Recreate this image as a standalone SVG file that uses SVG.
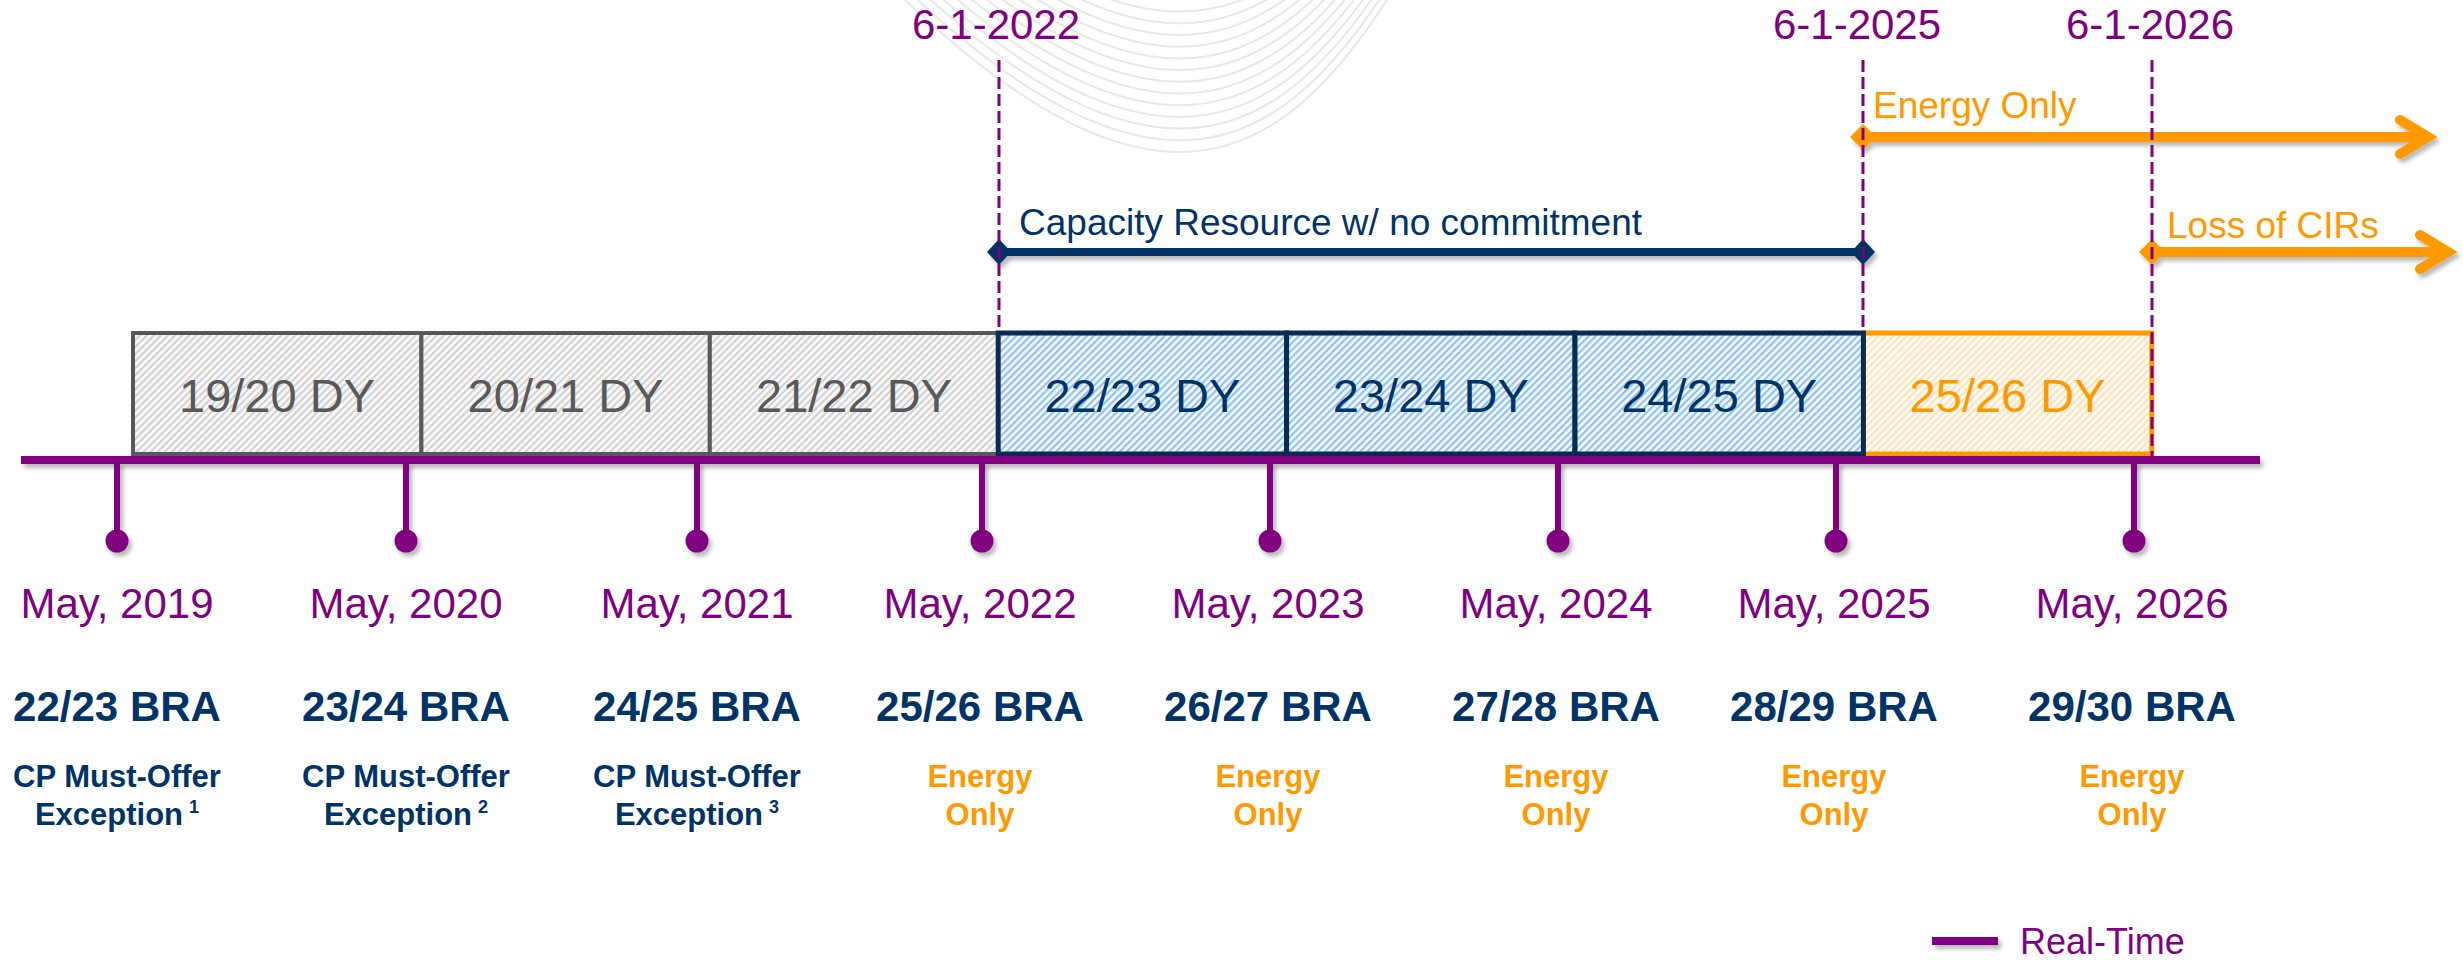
<svg xmlns="http://www.w3.org/2000/svg" width="2463" height="960" viewBox="0 0 2463 960">
<style>
.f{font-family:"Liberation Sans",Arial,Helvetica,sans-serif}
.date{font-size:42px;fill:#800080;text-anchor:middle}
.dy{font-size:47px;text-anchor:middle}
.may{font-size:42px;fill:#800080;text-anchor:middle}
.bra{font-size:42px;font-weight:bold;fill:#003366;text-anchor:middle}
.sub{font-size:31px;font-weight:bold;text-anchor:middle}
.navy{fill:#003366}
.orange{fill:#ff9900}
.gray{fill:#595959}
.dash{stroke:#800080;stroke-width:3;stroke-dasharray:12 5;fill:none}
.stem{fill:#800080}
.curve{fill:none;stroke:#e8e8e8;stroke-width:2}
.lbl{font-size:37px}
</style>
<defs>
<pattern id="hatchGray" width="5" height="5" patternUnits="userSpaceOnUse" patternTransform="rotate(45)">
<rect width="5" height="5" fill="#f7f7f7"/><rect width="2" height="5" fill="#d2d2d2"/>
</pattern>
<pattern id="hatchBlue" width="5" height="5" patternUnits="userSpaceOnUse" patternTransform="rotate(45)">
<rect width="5" height="5" fill="#f2f8fe"/><rect width="2.2" height="5" fill="#93c2f2"/>
</pattern>
<pattern id="hatchOrange" width="5" height="5" patternUnits="userSpaceOnUse" patternTransform="rotate(45)">
<rect width="5" height="5" fill="#fffbf5"/><rect width="2.2" height="5" fill="#fde3bd"/>
</pattern>
<filter id="shadow" filterUnits="userSpaceOnUse" x="0" y="0" width="2463" height="960">
<feDropShadow dx="3" dy="4" stdDeviation="2" flood-color="#000" flood-opacity="0.28"/>
</filter>
<marker id="diamondNavy" markerUnits="userSpaceOnUse" viewBox="-14 -14 28 28" markerWidth="28" markerHeight="28" refX="0" refY="0" orient="auto">
<path d="M-12,0 L0,-13 L12,0 L0,13 Z" fill="#003366"/>
</marker>
<marker id="diamondOrange" markerUnits="userSpaceOnUse" viewBox="-14 -14 28 28" markerWidth="28" markerHeight="28" refX="0" refY="0" orient="auto">
<path d="M-13,0 L0,-13 L13,0 L0,13 Z" fill="#ff9900"/>
</marker>
<marker id="openArrowOrange" markerUnits="userSpaceOnUse" viewBox="-40 -25 60 50" markerWidth="60" markerHeight="50" refX="0" refY="0" orient="auto" overflow="visible">
<path d="M-28,-17 L0,0 L-28,17" fill="none" stroke="#ff9900" stroke-width="10" stroke-linecap="round" stroke-linejoin="miter"/>
</marker>
<path id="arc" d="M900,-5 C1010,100 1100,152 1180,152 C1265,152 1330,90 1390,-5"/>
</defs>

<rect width="2463" height="960" fill="#ffffff"/>

<g id="background-curves" class="curve">
<use href="#arc"/>
<use href="#arc" y="-11.7"/>
<use href="#arc" y="-23.4"/>
<use href="#arc" y="-35.1"/>
<use href="#arc" y="-46.8"/>
<use href="#arc" y="-58.5"/>
<use href="#arc" y="-70.2"/>
<use href="#arc" y="-81.9"/>
<use href="#arc" y="-93.6"/>
<use href="#arc" y="-105.3"/>
<use href="#arc" y="-117"/>
<use href="#arc" y="-128.7"/>
<use href="#arc" y="-140.4"/>
</g>

<g id="date-markers">
<text class="f date" x="996" y="39">6-1-2022</text>
<text class="f date" x="1857" y="39">6-1-2025</text>
<text class="f date" x="2150" y="39">6-1-2026</text>
</g>

<g id="box-1920"><rect x="133" y="333" width="288.4" height="121" fill="url(#hatchGray)" stroke="#595959" stroke-width="4"/><text class="f dy gray" x="277" y="412">19/20 DY</text></g>
<g id="box-2021"><rect x="421.4" y="333" width="288.4" height="121" fill="url(#hatchGray)" stroke="#595959" stroke-width="4"/><text class="f dy gray" x="565.6" y="412">20/21 DY</text></g>
<g id="box-2122"><rect x="709.8" y="333" width="288.4" height="121" fill="url(#hatchGray)" stroke="#595959" stroke-width="4"/><text class="f dy gray" x="854" y="412">21/22 DY</text></g>
<g id="box-2526"><rect x="1863.4" y="333" width="288.4" height="121" fill="url(#hatchOrange)" stroke="#ff9900" stroke-width="5"/><text class="f dy orange" x="2007.6" y="412">25/26 DY</text></g>
<g id="box-2223"><rect x="998.2" y="333" width="288.4" height="121" fill="url(#hatchBlue)" stroke="#0b2b52" stroke-width="5"/><text class="f dy navy" x="1142.4" y="412">22/23 DY</text></g>
<g id="box-2324"><rect x="1286.6" y="333" width="288.4" height="121" fill="url(#hatchBlue)" stroke="#0b2b52" stroke-width="5"/><text class="f dy navy" x="1430.8" y="412">23/24 DY</text></g>
<g id="box-2425"><rect x="1575" y="333" width="288.4" height="121" fill="url(#hatchBlue)" stroke="#0b2b52" stroke-width="5"/><text class="f dy navy" x="1719.2" y="412">24/25 DY</text></g>

<g id="timeline-bar">
<rect x="21" y="456" width="2239" height="8" fill="#800080" filter="url(#shadow)"/>
</g>

<g id="col-2019" filter="url(#shadow)">
<rect class="stem" x="114" y="462" width="6" height="74"/><circle class="stem" cx="117" cy="541" r="11.5"/>
</g>
<g id="col-2020" filter="url(#shadow)">
<rect class="stem" x="403" y="462" width="6" height="74"/><circle class="stem" cx="406" cy="541" r="11.5"/>
</g>
<g id="col-2021" filter="url(#shadow)">
<rect class="stem" x="694" y="462" width="6" height="74"/><circle class="stem" cx="697" cy="541" r="11.5"/>
</g>
<g id="col-2022" filter="url(#shadow)">
<rect class="stem" x="979" y="462" width="6" height="74"/><circle class="stem" cx="982" cy="541" r="11.5"/>
</g>
<g id="col-2023" filter="url(#shadow)">
<rect class="stem" x="1267" y="462" width="6" height="74"/><circle class="stem" cx="1270" cy="541" r="11.5"/>
</g>
<g id="col-2024" filter="url(#shadow)">
<rect class="stem" x="1555" y="462" width="6" height="74"/><circle class="stem" cx="1558" cy="541" r="11.5"/>
</g>
<g id="col-2025" filter="url(#shadow)">
<rect class="stem" x="1833" y="462" width="6" height="74"/><circle class="stem" cx="1836" cy="541" r="11.5"/>
</g>
<g id="col-2026" filter="url(#shadow)">
<rect class="stem" x="2131" y="462" width="6" height="74"/><circle class="stem" cx="2134" cy="541" r="11.5"/>
</g>

<g id="labels-2019"><text class="f may" x="117" y="618">May, 2019</text><text class="f bra" x="117" y="721">22/23 BRA</text>
<text class="f sub navy" x="117" y="787">CP Must-Offer</text><text class="f sub navy" x="117" y="825">Exception<tspan font-size="18" dx="6" dy="-12">1</tspan></text></g>
<g id="labels-2020"><text class="f may" x="406" y="618">May, 2020</text><text class="f bra" x="406" y="721">23/24 BRA</text>
<text class="f sub navy" x="406" y="787">CP Must-Offer</text><text class="f sub navy" x="406" y="825">Exception<tspan font-size="18" dx="6" dy="-12">2</tspan></text></g>
<g id="labels-2021"><text class="f may" x="697" y="618">May, 2021</text><text class="f bra" x="697" y="721">24/25 BRA</text>
<text class="f sub navy" x="697" y="787">CP Must-Offer</text><text class="f sub navy" x="697" y="825">Exception<tspan font-size="18" dx="6" dy="-12">3</tspan></text></g>
<g id="labels-2022"><text class="f may" x="980" y="618">May, 2022</text><text class="f bra" x="980" y="721">25/26 BRA</text>
<text class="f sub orange" x="980" y="787">Energy</text><text class="f sub orange" x="980" y="825">Only</text></g>
<g id="labels-2023"><text class="f may" x="1268" y="618">May, 2023</text><text class="f bra" x="1268" y="721">26/27 BRA</text>
<text class="f sub orange" x="1268" y="787">Energy</text><text class="f sub orange" x="1268" y="825">Only</text></g>
<g id="labels-2024"><text class="f may" x="1556" y="618">May, 2024</text><text class="f bra" x="1556" y="721">27/28 BRA</text>
<text class="f sub orange" x="1556" y="787">Energy</text><text class="f sub orange" x="1556" y="825">Only</text></g>
<g id="labels-2025"><text class="f may" x="1834" y="618">May, 2025</text><text class="f bra" x="1834" y="721">28/29 BRA</text>
<text class="f sub orange" x="1834" y="787">Energy</text><text class="f sub orange" x="1834" y="825">Only</text></g>
<g id="labels-2026"><text class="f may" x="2132" y="618">May, 2026</text><text class="f bra" x="2132" y="721">29/30 BRA</text>
<text class="f sub orange" x="2132" y="787">Energy</text><text class="f sub orange" x="2132" y="825">Only</text></g>

<g id="connectors">
<path d="M999,252 L1863,252" stroke="#003366" stroke-width="8" fill="none" marker-start="url(#diamondNavy)" marker-end="url(#diamondNavy)" filter="url(#shadow)"/>
<path d="M1863,137 L2428,137" stroke="#ff9900" stroke-width="10" fill="none" marker-start="url(#diamondOrange)" marker-end="url(#openArrowOrange)" filter="url(#shadow)"/>
<path d="M2152,252 L2448,252" stroke="#ff9900" stroke-width="10" fill="none" marker-start="url(#diamondOrange)" marker-end="url(#openArrowOrange)" filter="url(#shadow)"/>
<line class="dash" x1="999" y1="60" x2="999" y2="331"/>
<line class="dash" x1="1863" y1="60" x2="1863" y2="331"/>
<line class="dash" x1="2152" y1="60" x2="2152" y2="456"/>
</g>

<g id="arrow-labels">
<text class="f lbl navy" x="1019" y="235">Capacity Resource w/ no commitment</text>
<text class="f lbl orange" x="1873" y="118">Energy Only</text>
<text class="f lbl orange" x="2167" y="238">Loss of CIRs</text>
</g>

<g id="legend">
<rect x="1932" y="937" width="66" height="8" fill="#800080" filter="url(#shadow)"/>
<text class="f" x="2020" y="954" font-size="36" fill="#800080">Real-Time</text>
</g>
</svg>
